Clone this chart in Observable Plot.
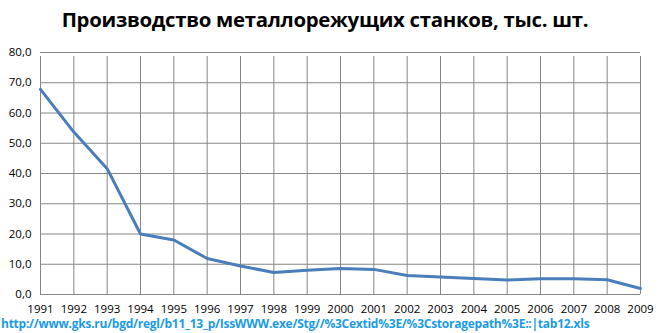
<!DOCTYPE html>
<html><head><meta charset="utf-8">
<script src="https://cdn.jsdelivr.net/npm/d3@7"></script>
<script src="https://cdn.jsdelivr.net/npm/@observablehq/plot@0.6"></script>
<style>
body{margin:0;background:#fff;width:664px;height:333px;overflow:hidden;position:relative;font-family:"Open Sans",sans-serif;}
#title{position:absolute;left:0;width:650px;top:5px;text-align:center;font-weight:bold;font-size:20.4px;color:#000;letter-spacing:-0.3px;}
#chart{position:absolute;left:0;top:0;}
#caption{position:absolute;left:1px;top:315px;font-weight:bold;font-size:12px;color:#1a9be6;white-space:nowrap;letter-spacing:-0.25px;}
</style></head>
<body>
<div id="title">Производство металлорежущих станков, тыс. шт.</div>
<div id="chart"></div>
<div id="caption">http://www.gks.ru/bgd/regl/b11_13_p/IssWWW.exe/Stg//%3Cextid%3E/%3Cstoragepath%3E::|tab12.xls</div>
<script>
const years = [1991,1992,1993,1994,1995,1996,1997,1998,1999,2000,2001,2002,2003,2004,2005,2006,2007,2008,2009];
const output = [67.8,53.7,41.6,20.0,18.0,11.9,9.4,7.3,8.0,8.6,8.3,6.3,5.8,5.3,4.8,5.2,5.2,4.9,2.0];
const yTicks = [0,10,20,30,40,50,60,70,80];
const fmt = d => d.toFixed(1).replace(".", ",");
const data = years.map((y,i) => ({year:y, value:output[i]}));

const plot = Plot.plot({
  width: 664, height: 333,
  marginTop: 52, marginBottom: 39, marginLeft: 40, marginRight: 24,
  style: {fontFamily: "'Open Sans', sans-serif", fontSize: "11.5px", color: "#000", background: "transparent"},
  x: {domain: [1991, 2009], ticks: years, tickFormat: d => String(d), tickSize: 0, tickPadding: 10, label: null},
  y: {domain: [0, 80], ticks: yTicks, tickFormat: fmt, tickSize: 0, tickPadding: 9, label: null},
  marks: [
    Plot.ruleY(yTicks, {stroke: "#868686", strokeWidth: 1}),
    Plot.ruleX(years, {y1: 0, y2: 80, stroke: "#868686", strokeWidth: 1, insetBottom: -4}),
    Plot.line(data, {x: "year", y: "value", stroke: "#4a7ebb", strokeWidth: 3, strokeLinejoin: "round"}),
    Plot.axisX({ticks: years, tickFormat: d => String(d), tickSize: 0, tickPadding: 10}),
    Plot.axisY({ticks: yTicks, tickFormat: fmt, tickSize: 0, tickPadding: 9})
  ]
});
document.getElementById("chart").appendChild(plot);
</script>
</body></html>
